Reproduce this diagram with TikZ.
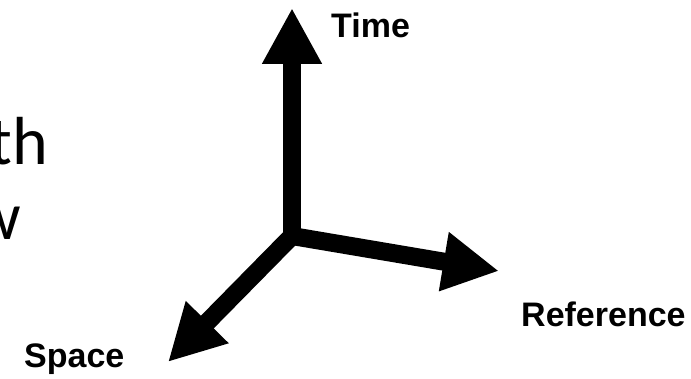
\documentclass[tikz,border=0pt]{standalone}
\usepackage{fontspec}
\setmainfont{Liberation Sans}
\newfontfamily\slidefont{Carlito}
\usetikzlibrary{arrows.meta}
\begin{document}
\begin{tikzpicture}[x=1pt,y=-1pt,
  axis/.style={line width=18pt,-{Triangle[length=56pt,width=56pt]}},
  axlabel/.style={inner sep=0pt,font=\fontsize{34}{40}\selectfont\bfseries},
  slidetext/.style={inner sep=0pt,font=\slidefont\fontsize{68}{75}\selectfont}]
\useasboundingbox (0,0) rectangle (691,379);
\clip (0,0) rectangle (691,379);
\coordinate (O) at (292,236);
\coordinate (tT) at (292,8);
\coordinate (tR) at (499,271);
\coordinate (tS) at (168,362);
\draw[axis] (O) -- (tT);
\draw[axis] (O) -- (tR);
\draw[axis] (O) -- (tS);
\node[axlabel,anchor=base west] (time) at (331,38) {Time};
\node[axlabel,anchor=base west] (ref) at (521,327) {Reference};
\node[axlabel,anchor=base west] (space) at (24,367) {Space};
\node[slidetext,anchor=base east] (l1) at (48,165) {th};
\node[slidetext,anchor=base east] (l2) at (21,240) {w};
\end{tikzpicture}
\end{document}
